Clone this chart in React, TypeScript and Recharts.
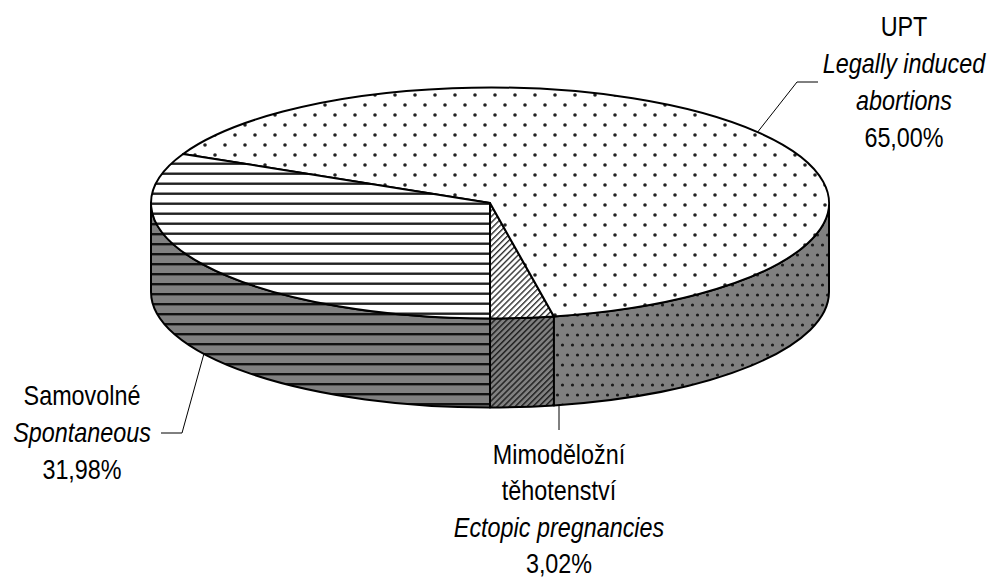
import React from 'react'
import { PieChart, Pie } from 'recharts'

// slice order follows the pie counter-clockwise from the front (bottom) point
const categories = ['Mimoděložní těhotenství', 'UPT', 'Samovolné']
const englishNames = ['Ectopic pregnancies', 'Legally induced abortions', 'Spontaneous']
const shares = [3.02, 65.0, 31.98]

// how the label texts are broken into lines
const czechLines = [['Mimoděložní', 'těhotenství'], ['UPT'], ['Samovolné']]
const englishLines = [['Ectopic pregnancies'], ['Legally induced', 'abortions'], ['Spontaneous']]

const data = categories.map((name, i) => ({ name, english: englishNames[i], value: shares[i] }))

const W = 994
const H = 580
const CX = 490
const CY = 203
const RX = 339
const RATIO = 115.5 / 339
const DEPTH = 89
// no Arial Narrow here, so Liberation Sans squeezed horizontally
const FONT = "'Liberation Sans', Arial, sans-serif"
const FONT_SIZE = 28.5
const NARROW = 0.82

const topFills = ['url(#hatchTop)', 'url(#dotsTop)', 'url(#linesTop)']
const sideFills = ['url(#hatchSide)', 'url(#dotsSide)', 'url(#linesSide)']

// label placement: text centre, first baseline, line step, leader elbow/end
const labelLayout = [
  { x: 559, y: 464, step: 36.3, anchorX: 559, elbow: [559, 430], end: [559, 430], onSide: true },
  { x: 904, y: 36, step: 37, anchorX: null, elbow: [797, 82], end: [818, 82], onSide: false },
  { x: 82, y: 405, step: 37, anchorX: null, elbow: [182, 433], end: [161, 433], onSide: true },
]

const fmt = (v: number) => v.toFixed(2).replace('.', ',') + '%'

const Slice3D = (props: any) => {
  const { cx, cy, outerRadius, startAngle, endAngle, index } = props
  const rx = outerRadius
  const ry = outerRadius * RATIO
  const pt = (deg: number, dy = 0) => {
    const r = (deg * Math.PI) / 180
    return `${cx + rx * Math.cos(r)},${cy - ry * Math.sin(r) + dy}`
  }
  const s = Math.min(startAngle, endAngle)
  const e = Math.max(startAngle, endAngle)

  const sides: string[] = []
  for (const k of [-360, 0, 360]) {
    const a = Math.max(s, 180 + k)
    const b = Math.min(e, 360 + k)
    if (b > a) {
      sides.push(
        `M${pt(a)} A${rx},${ry} 0 0 0 ${pt(b)} L${pt(b, DEPTH)} A${rx},${ry} 0 0 1 ${pt(a, DEPTH)} Z`
      )
    }
  }
  const large = e - s > 180 ? 1 : 0
  const top = `M${cx},${cy} L${pt(s)} A${rx},${ry} 0 ${large} 0 ${pt(e)} Z`

  return (
    <g>
      {sides.map((d, i) => (
        <path key={i} d={d} fill={sideFills[index]} stroke="#000" strokeWidth={2} strokeLinejoin="round" />
      ))}
      <path d={top} fill={topFills[index]} stroke="#000" strokeWidth={2} strokeLinejoin="round" />
    </g>
  )
}

const renderLabel = (props: any) => {
  const { cx, cy, outerRadius, midAngle, index, value } = props
  const lay = labelLayout[index]
  const rx = outerRadius
  const ry = outerRadius * RATIO
  let sx: number
  let sy: number
  if (lay.anchorX != null) {
    const c = (lay.anchorX - cx) / rx
    sx = lay.anchorX
    sy = cy + ry * Math.sqrt(Math.max(0, 1 - c * c)) + DEPTH
  } else {
    const r = (midAngle * Math.PI) / 180
    sx = cx + rx * Math.cos(r)
    sy = cy - ry * Math.sin(r) + (lay.onSide ? DEPTH : 0)
  }
  const lines = [
    ...czechLines[index].map((t) => ({ t, italic: false })),
    ...englishLines[index].map((t) => ({ t, italic: true })),
    { t: fmt(value), italic: false },
  ]
  return (
    <g>
      <polyline
        points={`${sx},${sy} ${lay.elbow[0]},${lay.elbow[1]} ${lay.end[0]},${lay.end[1]}`}
        fill="none"
        stroke="#000"
        strokeWidth={1}
      />
      {lines.map((l, i) => (
        <g key={i} transform={`translate(${lay.x},${lay.y + i * lay.step}) scale(${NARROW},1)`}>
          <text
            x={0}
            y={0}
            textAnchor="middle"
            fontFamily={FONT}
            fontSize={FONT_SIZE}
            fontStyle={l.italic ? 'italic' : 'normal'}
            fill="#000"
          >
            {l.t}
          </text>
        </g>
      ))}
    </g>
  )
}

const Patterns = () => (
  <svg width={0} height={0} style={{ position: 'absolute' }}>
    <defs>
      <pattern id="dotsTop" patternUnits="userSpaceOnUse" width={20} height={20}>
        <rect width={20} height={20} fill="#fff" />
        <circle cx={5} cy={5} r={1.8} fill="#222" />
        <circle cx={15} cy={15} r={1.8} fill="#222" />
      </pattern>
      <pattern id="dotsSide" patternUnits="userSpaceOnUse" width={10} height={20}>
        <rect width={10} height={20} fill="#808080" />
        <circle cx={2.5} cy={5} r={1.6} fill="#1a1a1a" />
        <circle cx={7.5} cy={15} r={1.6} fill="#1a1a1a" />
      </pattern>
      <pattern id="linesTop" patternUnits="userSpaceOnUse" width={10} height={10}>
        <rect width={10} height={10} fill="#fff" />
        <rect y={2.5} width={10} height={2.4} fill="#222" />
      </pattern>
      <pattern id="linesSide" patternUnits="userSpaceOnUse" width={10} height={10}>
        <rect width={10} height={10} fill="#808080" />
        <rect y={3} width={10} height={2.4} fill="#111" />
      </pattern>
      <pattern id="hatchTop" patternUnits="userSpaceOnUse" width={4.2} height={4.2} patternTransform="rotate(45)">
        <rect width={4.2} height={4.2} fill="#fff" />
        <rect width={1.4} height={4.2} fill="#333" />
      </pattern>
      <pattern id="hatchSide" patternUnits="userSpaceOnUse" width={4.2} height={4.2} patternTransform="rotate(45)">
        <rect width={4.2} height={4.2} fill="#808080" />
        <rect width={1.5} height={4.2} fill="#222" />
      </pattern>
    </defs>
  </svg>
)

const App: React.FC = () => {
  return (
    <div style={{ position: 'absolute', left: 0, top: 0, width: W, height: H, background: '#fff' }}>
      <Patterns />
      <PieChart width={W} height={H} margin={{ top: 0, right: 0, bottom: 0, left: 0 }}>
        <Pie
          data={data}
          dataKey="value"
          nameKey="name"
          cx={CX}
          cy={CY}
          outerRadius={RX}
          startAngle={-90}
          endAngle={270}
          stroke="none"
          shape={Slice3D}
          label={renderLabel}
          labelLine={false}
          isAnimationActive={false}
        />
      </PieChart>
    </div>
  )
}

export default App
